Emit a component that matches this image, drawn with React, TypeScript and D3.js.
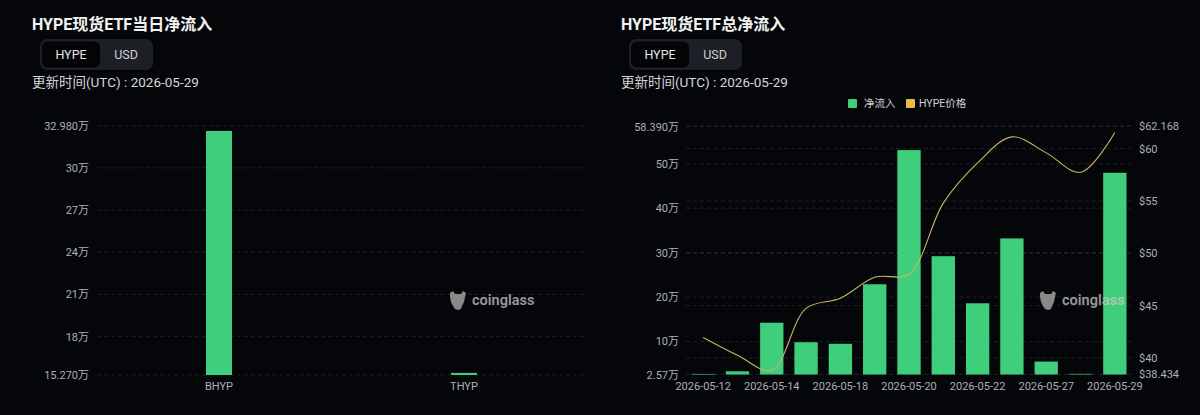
import React from "react";
import * as d3 from "d3";

// ---------- data ----------
const leftCategories = ["BHYP", "THYP"];
const leftValues = [32.63, 15.42]; // 万 HYPE
const leftTickValues = [15.27, 18, 21, 24, 27, 30, 32.98];
const leftTickLabels = ["15.270万", "18万", "21万", "24万", "27万", "30万", "32.980万"];

const rightDates = [
  "2026-05-12", "2026-05-13", "2026-05-14", "2026-05-15", "2026-05-18", "2026-05-19",
  "2026-05-20", "2026-05-21", "2026-05-22", "2026-05-26", "2026-05-27", "2026-05-28", "2026-05-29",
];
const rightFlows = [2.7, 3.29, 14.23, 9.84, 9.48, 22.88, 53.08, 29.2, 18.6, 33.2, 5.48, 2.72, 47.97]; // 万
const rightPrices = [41.96, 40.26, 38.82, 44.74, 45.7, 47.71, 48.02, 54.8, 58.64, 61.13, 59.6, 57.74, 61.55];
const flowTickValues = [2.57, 10, 20, 30, 40, 50, 58.39];
const flowTickLabels = ["2.57万", "10万", "20万", "30万", "40万", "50万", "58.390万"];
const priceTickValues = [38.434, 40, 45, 50, 55, 60, 62.168];
const priceTickLabels = ["$38.434", "$40", "$45", "$50", "$55", "$60", "$62.168"];
const shownDateIdx = [0, 2, 4, 6, 8, 10, 12];

// ---------- style ----------
const BG = "#05060a";
const GREEN = "#3fcf7c";
const GOLD = "#cdb266";
const GRID = "#1d2026";
const AXIS_TXT = "#aeb0b5";
const FONT = 'Roboto, "Noto Sans CJK SC", "Noto Sans", sans-serif';

function Watermark({ x, y }: { x: number; y: number }) {
  return (
    <g transform={`translate(${x},${y})`} opacity={0.75}>
      <path
        d="M1,-7 L4,-9 L6,-6 L12,-6 L14,-9 L17,-7 L16,-3 L15,2 L13,6 L12,9 L9,10 L6,9 L4,6 L2,2 L1,-3 Z"
        fill="#b5b5b5"
      />
      <text x={23} y={5} fontSize={14.5} fontWeight={600} fill="#c8c8c8" fontFamily={FONT}>
        coinglass
      </text>
    </g>
  );
}

function Header({ x, title }: { x: number; title: string }) {
  return (
    <g fontFamily={FONT}>
      <text x={x} y={30} fontSize={16} fontWeight={700} fill="#f2f2f2">
        {title}
      </text>
      <rect x={x + 8} y={39} width={113} height={31} rx={7} fill="#1c1f25" />
      <rect x={x + 10} y={41.5} width={58} height={26} rx={6} fill="#030406" />
      <text x={x + 39} y={59} fontSize={12.5} fill="#e6e6e6" textAnchor="middle">
        HYPE
      </text>
      <text x={x + 94} y={59} fontSize={12.5} fill="#d0d0d0" textAnchor="middle">
        USD
      </text>
      <text x={x} y={87} fontSize={13.5} fill="#d6d6d6">
        更新时间(UTC) : 2026-05-29
      </text>
    </g>
  );
}

function LeftChart() {
  const x = d3.scaleBand<string>().domain(leftCategories).range([96.5, 586.5]);
  const y = d3.scaleLinear().domain([15.27, 32.98]).range([375, 126]);
  const bw = 26;
  return (
    <g fontFamily={FONT}>
      {leftTickValues.map((t, i) => (
        <g key={i}>
          <line x1={97} x2={588} y1={y(t)} y2={y(t)} stroke={GRID} strokeDasharray="4,3" />
          <text x={89} y={y(t) + 4} fontSize={11} fill={AXIS_TXT} textAnchor="end">
            {leftTickLabels[i]}
          </text>
        </g>
      ))}
      {leftCategories.map((c, i) => {
        const cx = (x(c) as number) + x.bandwidth() / 2;
        return (
          <g key={c}>
            <rect x={cx - bw / 2} y={y(leftValues[i])} width={bw} height={y(15.27) - y(leftValues[i])} fill={GREEN} />
            <text x={cx} y={390} fontSize={11} fill={AXIS_TXT} textAnchor="middle">
              {c}
            </text>
          </g>
        );
      })}
    </g>
  );
}

function RightChart() {
  const x = d3.scaleBand<string>().domain(rightDates).range([686, 1132]).paddingInner(0.32).paddingOuter(0.16);
  const yF = d3.scaleLinear().domain([2.57, 58.39]).range([374.5, 126.5]);
  const yP = d3.scaleLinear().domain([38.434, 62.168]).range([374.3, 126]);
  const cx = (d: string) => (x(d) as number) + x.bandwidth() / 2;
  const line = d3
    .line<number>()
    .x((_, i) => cx(rightDates[i]))
    .y((p) => yP(p))
    .curve(d3.curveCatmullRom.alpha(0.5));
  return (
    <g fontFamily={FONT}>
      {priceTickValues.map((t, i) => (
        <g key={"p" + i}>
          <line x1={686} x2={1133} y1={yP(t)} y2={yP(t)} stroke={GRID} strokeDasharray="4,3" />
          <text x={1139} y={yP(t) + 4} fontSize={11} fill={AXIS_TXT} textAnchor="start">
            {priceTickLabels[i]}
          </text>
        </g>
      ))}
      {flowTickValues.map((t, i) => (
        <g key={"f" + i}>
          <line x1={686} x2={1133} y1={yF(t)} y2={yF(t)} stroke={GRID} strokeDasharray="4,3" />
          <text x={679} y={yF(t) + 4} fontSize={11} fill={AXIS_TXT} textAnchor="end">
            {flowTickLabels[i]}
          </text>
        </g>
      ))}
      {rightDates.map((d, i) => (
        <rect key={d} x={x(d)} y={yF(rightFlows[i])} width={x.bandwidth()} height={yF(2.57) - yF(rightFlows[i])} fill={GREEN} />
      ))}
      <path d={line(rightPrices) || ""} fill="none" stroke={GOLD} strokeWidth={1.1} />
      {shownDateIdx.map((i) => (
        <text key={i} x={cx(rightDates[i])} y={390} fontSize={11} fill={AXIS_TXT} textAnchor="middle">
          {rightDates[i]}
        </text>
      ))}
      {/* legend */}
      <rect x={848} y={99} width={9} height={9} rx={1} fill={GREEN} />
      <text x={864} y={107} fontSize={10.5} fill="#d2d2d2">净流入</text>
      <rect x={906} y={99} width={9} height={9} rx={1} fill="#e9b949" />
      <text x={919} y={107} fontSize={10.5} fill="#d2d2d2">HYPE价格</text>
    </g>
  );
}

export default function App() {
  return (
    <svg
      width={1200}
      height={415}
      viewBox="0 0 1200 415"
      style={{ position: "absolute", left: 0, top: 0, display: "block" }}
    >
      <rect width={1200} height={415} fill={BG} />
      <Header x={32} title="HYPE现货ETF当日净流入" />
      <Header x={621} title="HYPE现货ETF总净流入" />
      <LeftChart />
      <RightChart />
      <Watermark x={449} y={300} />
      <Watermark x={1039} y={300} />
    </svg>
  );
}
